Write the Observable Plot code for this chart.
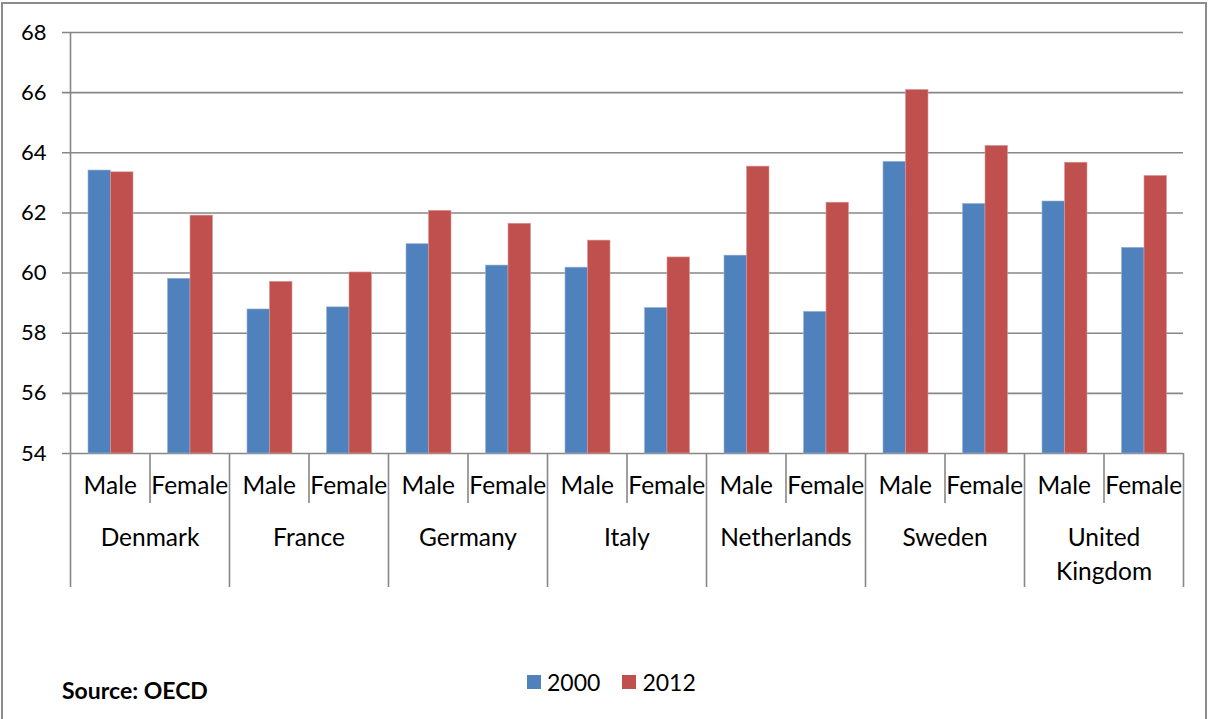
<!DOCTYPE html>
<html>
<head>
<meta charset="utf-8">
<script src="https://cdn.jsdelivr.net/npm/d3@7"></script>
<script src="https://cdn.jsdelivr.net/npm/@observablehq/plot@0.6"></script>
<style>
  html, body { margin: 0; padding: 0; background: #fff; }
  #wrap { position: relative; width: 1212px; height: 719px; overflow: hidden; font-family: Lato, "Open Sans", sans-serif; }
  #frame { position: absolute; left: 1px; top: 2px; width: 1206px; height: 760px; border: 2px solid #8c8c8c; box-sizing: border-box; }
  #chart { position: absolute; left: 0; top: 0; }
  #source { position: absolute; left: 62px; top: 676px; font-weight: bold; font-size: 23px; color: #000; }
  #legend { position: absolute; left: 527px; top: 668px; font-size: 23px; color: #000; display: flex; align-items: center; }
  #legend .sw { width: 14px; height: 14px; display: inline-block; margin-right: 6px; }
  #legend .item { display: flex; align-items: center; margin-right: 22px; }
</style>
</head>
<body>
<div id="wrap">
  <div id="frame"></div>
  <div id="chart"></div>
  <div id="source">Source: OECD</div>
  <div id="legend"></div>
</div>
<script>
const countries = ["Denmark", "France", "Germany", "Italy", "Netherlands", "Sweden", "United Kingdom"];
const countryLabels = ["Denmark", "France", "Germany", "Italy", "Netherlands", "Sweden", "United\nKingdom"];
const sexes = ["Male", "Female"];
const years = ["2000", "2012"];
const colors = ["#4F81BD", "#C0504D"];
// values ordered: country by country, Male then Female
const values2000 = [63.41, 59.81, 58.79, 58.86, 60.96, 60.25, 60.18, 58.84, 60.58, 58.71, 63.70, 62.30, 62.38, 60.84];
const values2012 = [63.35, 61.91, 59.71, 60.02, 62.07, 61.64, 61.08, 60.52, 63.54, 62.34, 66.09, 64.23, 63.67, 63.23];
const yTicks = [54, 56, 58, 60, 62, 64, 66, 68];

const rows = [];
countries.forEach((c, i) => sexes.forEach((s, j) => {
  const k = i * 2 + j;
  rows.push({key: c + "|" + s, country: c, label: countryLabels[i], sex: s, v2000: values2000[k], v2012: values2012[k]});
}));
const keys = rows.map(d => d.key);
const maleRows = rows.filter(d => d.sex === "Male");
const femaleRows = rows.filter(d => d.sex === "Female");

const W = 1212, H = 600, mL = 70, mR = 29, mT = 32, mB = 147;
const step = (W - mL - mR) / keys.length;
const plotH = H - mT - mB;
const grid = "#878787";

const chart = Plot.plot({
  width: W, height: H,
  marginLeft: mL, marginRight: mR, marginTop: mT, marginBottom: mB,
  style: {fontFamily: "Lato, 'Open Sans', sans-serif", fontSize: "22px", color: "#000", background: "transparent"},
  x: {type: "band", domain: keys, padding: 0, round: false, axis: null},
  y: {domain: [54, 68], ticks: yTicks, tickSize: 0, tickPadding: 24, label: null, tickFormat: d => d},
  marks: [
    Plot.ruleY(yTicks, {stroke: grid, strokeWidth: 1.6, insetLeft: -8}),
    Plot.barY(rows, {x: "key", y1: 54, y2: "v2000", fill: colors[0], insetLeft: 18, insetRight: 39, stroke: "#9ab4d8", strokeWidth: 0.6}),
    Plot.barY(rows, {x: "key", y1: 54, y2: "v2012", fill: colors[1], insetLeft: 40.5, insetRight: 16.5, stroke: "#d99a98", strokeWidth: 0.6}),
    // y axis line + Denmark left separator
    Plot.ruleX([keys[0]], {x: d => d, dx: -step / 2, stroke: grid, strokeWidth: 1.6, insetBottom: -134}),
    // country separators (left edges of Male)
    Plot.ruleX(maleRows.slice(1), {x: "key", dx: -step / 2, stroke: grid, strokeWidth: 1.6, insetTop: plotH, insetBottom: -134}),
    Plot.ruleX([keys[keys.length - 1]], {x: d => d, dx: step / 2, stroke: grid, strokeWidth: 1.6, insetTop: plotH, insetBottom: -134}),
    // sex separators (left edges of Female)
    Plot.ruleX(femaleRows, {x: "key", dx: -step / 2, stroke: grid, strokeWidth: 1.6, insetTop: plotH, insetBottom: -50}),
    // sub labels
    Plot.text(rows, {x: "key", text: "sex", frameAnchor: "bottom", dy: 40, fontSize: 24.5, fill: "#000"}),
    // country labels
    Plot.text(maleRows, {x: "key", text: "label", frameAnchor: "bottom", dx: step / 2, dy: 68, lineAnchor: "top", lineHeight: 1.4, fontSize: 24.5, fill: "#000"})
  ]
});
document.getElementById("chart").appendChild(chart);

const legend = document.getElementById("legend");
years.forEach((y, i) => {
  const item = document.createElement("span");
  item.className = "item";
  const sw = document.createElement("span");
  sw.className = "sw";
  sw.style.background = colors[i];
  item.appendChild(sw);
  item.appendChild(document.createTextNode(y));
  legend.appendChild(item);
});
</script>
</body>
</html>
